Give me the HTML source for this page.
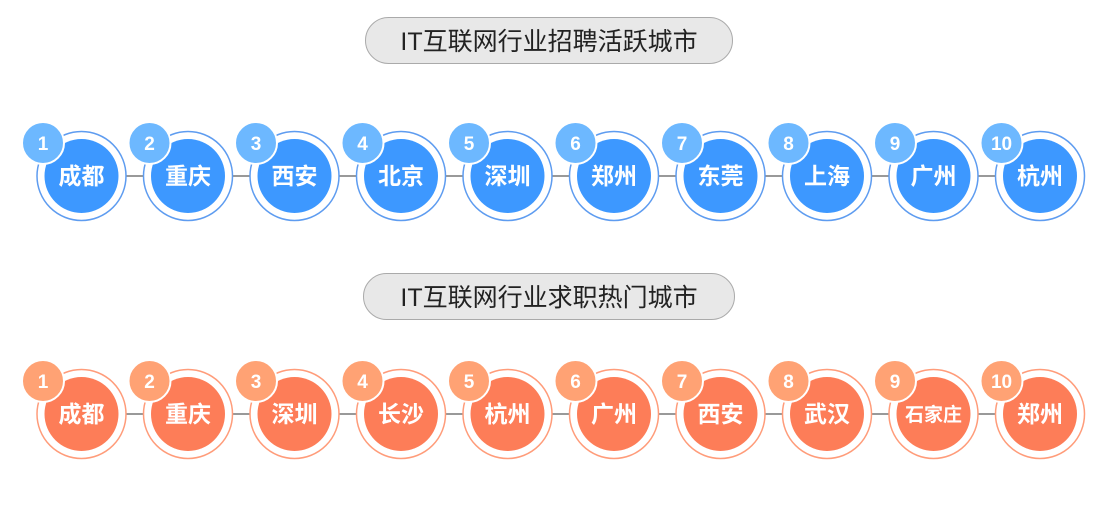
<!DOCTYPE html>
<html><head><meta charset="utf-8"><style>
body{margin:0;background:#fff;width:1103px;height:506px;overflow:hidden}
text{font-family:"Liberation Sans","Noto Sans CJK SC",sans-serif}
</style></head><body>
<svg width="1103" height="506" viewBox="0 0 1103 506" xmlns="http://www.w3.org/2000/svg">
<defs>
<g id="nb"><circle r="44.5" fill="#fff" stroke="#5e9cf0" stroke-width="1.5"/><circle r="37" fill="#3d98ff"/></g>
<g id="no"><circle r="44.5" fill="#fff" stroke="#ff9c7a" stroke-width="1.5"/><circle r="37" fill="#fd7d58"/></g>
</defs>
<rect x="365.5" y="17.5" width="367" height="46" rx="23" fill="#e8e8e8" stroke="#aaa" stroke-width="1"/>
<text x="549" y="50" font-size="25" text-anchor="middle" fill="#222">IT互联网行业招聘活跃城市</text>
<rect x="363.5" y="273.5" width="371" height="46" rx="23" fill="#e8e8e8" stroke="#aaa" stroke-width="1"/>
<text x="549" y="306" font-size="25" text-anchor="middle" fill="#222">IT互联网行业求职热门城市</text>
<line x1="82" y1="176" x2="1040" y2="176" stroke="#999" stroke-width="2"/>
<line x1="82" y1="414" x2="1040" y2="414" stroke="#999" stroke-width="2"/>
<g font-size="23" fill="#fff" text-anchor="middle" font-weight="bold">
<g transform="translate(81.5,176)"><use href="#nb"/><text y="8">成都</text><circle cx="-38.5" cy="-33" r="21" fill="#6db8ff" stroke="#fff" stroke-width="2"/><text x="-38.5" y="-26" font-size="19">1</text></g>
<g transform="translate(188,176)"><use href="#nb"/><text y="8">重庆</text><circle cx="-38.5" cy="-33" r="21" fill="#6db8ff" stroke="#fff" stroke-width="2"/><text x="-38.5" y="-26" font-size="19">2</text></g>
<g transform="translate(294.5,176)"><use href="#nb"/><text y="8">西安</text><circle cx="-38.5" cy="-33" r="21" fill="#6db8ff" stroke="#fff" stroke-width="2"/><text x="-38.5" y="-26" font-size="19">3</text></g>
<g transform="translate(401,176)"><use href="#nb"/><text y="8">北京</text><circle cx="-38.5" cy="-33" r="21" fill="#6db8ff" stroke="#fff" stroke-width="2"/><text x="-38.5" y="-26" font-size="19">4</text></g>
<g transform="translate(507.5,176)"><use href="#nb"/><text y="8">深圳</text><circle cx="-38.5" cy="-33" r="21" fill="#6db8ff" stroke="#fff" stroke-width="2"/><text x="-38.5" y="-26" font-size="19">5</text></g>
<g transform="translate(614,176)"><use href="#nb"/><text y="8">郑州</text><circle cx="-38.5" cy="-33" r="21" fill="#6db8ff" stroke="#fff" stroke-width="2"/><text x="-38.5" y="-26" font-size="19">6</text></g>
<g transform="translate(720.5,176)"><use href="#nb"/><text y="8">东莞</text><circle cx="-38.5" cy="-33" r="21" fill="#6db8ff" stroke="#fff" stroke-width="2"/><text x="-38.5" y="-26" font-size="19">7</text></g>
<g transform="translate(827,176)"><use href="#nb"/><text y="8">上海</text><circle cx="-38.5" cy="-33" r="21" fill="#6db8ff" stroke="#fff" stroke-width="2"/><text x="-38.5" y="-26" font-size="19">8</text></g>
<g transform="translate(933.5,176)"><use href="#nb"/><text y="8">广州</text><circle cx="-38.5" cy="-33" r="21" fill="#6db8ff" stroke="#fff" stroke-width="2"/><text x="-38.5" y="-26" font-size="19">9</text></g>
<g transform="translate(1040,176)"><use href="#nb"/><text y="8">杭州</text><circle cx="-38.5" cy="-33" r="21" fill="#6db8ff" stroke="#fff" stroke-width="2"/><text x="-38.5" y="-26" font-size="19">10</text></g>

<g transform="translate(81.5,414)"><use href="#no"/><text y="8">成都</text><circle cx="-38.5" cy="-33" r="21" fill="#ffa274" stroke="#fff" stroke-width="2"/><text x="-38.5" y="-26" font-size="19">1</text></g>
<g transform="translate(188,414)"><use href="#no"/><text y="8">重庆</text><circle cx="-38.5" cy="-33" r="21" fill="#ffa274" stroke="#fff" stroke-width="2"/><text x="-38.5" y="-26" font-size="19">2</text></g>
<g transform="translate(294.5,414)"><use href="#no"/><text y="8">深圳</text><circle cx="-38.5" cy="-33" r="21" fill="#ffa274" stroke="#fff" stroke-width="2"/><text x="-38.5" y="-26" font-size="19">3</text></g>
<g transform="translate(401,414)"><use href="#no"/><text y="8">长沙</text><circle cx="-38.5" cy="-33" r="21" fill="#ffa274" stroke="#fff" stroke-width="2"/><text x="-38.5" y="-26" font-size="19">4</text></g>
<g transform="translate(507.5,414)"><use href="#no"/><text y="8">杭州</text><circle cx="-38.5" cy="-33" r="21" fill="#ffa274" stroke="#fff" stroke-width="2"/><text x="-38.5" y="-26" font-size="19">5</text></g>
<g transform="translate(614,414)"><use href="#no"/><text y="8">广州</text><circle cx="-38.5" cy="-33" r="21" fill="#ffa274" stroke="#fff" stroke-width="2"/><text x="-38.5" y="-26" font-size="19">6</text></g>
<g transform="translate(720.5,414)"><use href="#no"/><text y="8">西安</text><circle cx="-38.5" cy="-33" r="21" fill="#ffa274" stroke="#fff" stroke-width="2"/><text x="-38.5" y="-26" font-size="19">7</text></g>
<g transform="translate(827,414)"><use href="#no"/><text y="8">武汉</text><circle cx="-38.5" cy="-33" r="21" fill="#ffa274" stroke="#fff" stroke-width="2"/><text x="-38.5" y="-26" font-size="19">8</text></g>
<g transform="translate(933.5,414)"><use href="#no"/><text y="7" font-size="19">石家庄</text><circle cx="-38.5" cy="-33" r="21" fill="#ffa274" stroke="#fff" stroke-width="2"/><text x="-38.5" y="-26" font-size="19">9</text></g>
<g transform="translate(1040,414)"><use href="#no"/><text y="8">郑州</text><circle cx="-38.5" cy="-33" r="21" fill="#ffa274" stroke="#fff" stroke-width="2"/><text x="-38.5" y="-26" font-size="19">10</text></g>
</g>
</svg>
</body></html>
